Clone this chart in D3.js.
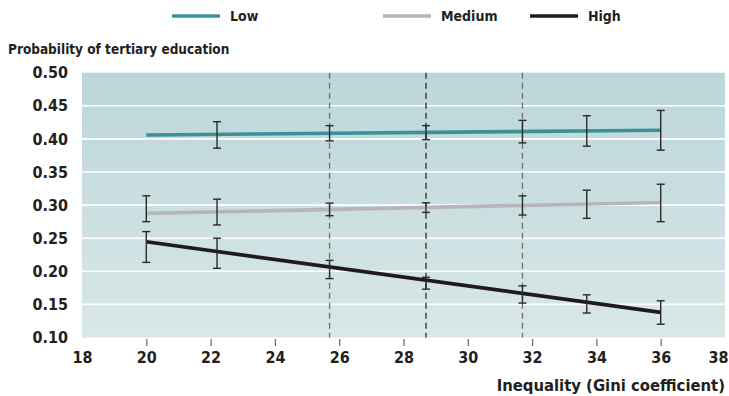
<!DOCTYPE html>
<html><head><meta charset="utf-8">
<script src="https://cdn.jsdelivr.net/npm/d3@7"></script>
<style>
body{margin:0;background:#fff;}
svg text{font-family:"DejaVu Sans Condensed","Roboto",sans-serif;fill:#231f20;}
</style></head>
<body><svg id="c" width="729" height="396"></svg>
<script>
const seriesNames = ["Low","Medium","High"];
const seriesColors = ["#3a9297","#b6b6b8","#1f1b1c"];
const lineX = [20, 36];
const lowLine = [0.406, 0.413];
const mediumLine = [0.2875, 0.304];
const highLine = [0.2445, 0.138];
const barX = [20, 22.2, 25.7, 28.7, 31.7, 33.7, 36];
const lowUpper = [null, 0.426, 0.420, 0.420, 0.428, 0.435, 0.443];
const lowLower = [null, 0.386, 0.397, 0.399, 0.394, 0.389, 0.383];
const mediumUpper = [0.314, 0.309, 0.303, 0.3035, 0.314, 0.3225, 0.3315];
const mediumLower = [0.275, 0.270, 0.284, 0.289, 0.285, 0.280, 0.275];
const highUpper = [0.260, 0.250, 0.2165, 0.191, 0.178, 0.1645, 0.1555];
const highLower = [0.2135, 0.2045, 0.189, 0.173, 0.152, 0.137, 0.120];
const refLines = [25.7, 28.7, 31.7];
const refColors = ["#6f6f6f","#2b2b2b","#6f6f6f"];
const xTicks = [18,20,22,24,26,28,30,32,34,36,38];
const yTicks = [0.10,0.15,0.20,0.25,0.30,0.35,0.40,0.45,0.50];
const yTitle = "Probability of tertiary education";
const xTitle = "Inequality (Gini coefficient)";

const svg = d3.select("#c");
const x = d3.scaleLinear().domain([18,38]).range([82,725]);
const y = d3.scaleLinear().domain([0.10,0.50]).range([337.5,72.7]);

const defs = svg.append("defs");
const grad = defs.append("linearGradient").attr("id","bg").attr("x1",0).attr("y1",0).attr("x2",0).attr("y2",1);
grad.append("stop").attr("offset","0%").attr("stop-color","#bbd6d9");
grad.append("stop").attr("offset","100%").attr("stop-color","#d9e7e8");

svg.append("rect").attr("x",x(18)).attr("y",y(0.5)).attr("width",x(38)-x(18)).attr("height",y(0.1)-y(0.5)).attr("fill","url(#bg)");

// gridlines
svg.append("g").selectAll("line").data(yTicks.filter(d=>d>0.1&&d<0.5)).join("line")
  .attr("x1",x(18)).attr("x2",x(38)).attr("y1",d=>y(d)).attr("y2",d=>y(d))
  .attr("stroke","#ffffff").attr("stroke-width",1.6);

// y axis labels
const yAxis = d3.axisLeft(y).tickValues(yTicks).tickFormat(d3.format(".2f")).tickSize(0).tickPadding(0);
const yg = svg.append("g").attr("transform","translate(68,0)").call(yAxis);
yg.select(".domain").remove();
yg.selectAll("text").attr("font-size",16).attr("font-weight","bold").attr("fill","#231f20");

// x axis
const xAxis = d3.axisBottom(x).tickValues(xTicks).tickFormat(d3.format("d")).tickSize(7).tickPadding(6);
const xg = svg.append("g").attr("transform","translate(0,339)").call(xAxis);
xg.select(".domain").remove();
xg.selectAll(".tick line").attr("stroke","#666").attr("stroke-width",1.2)
  .filter(d=>d===18||d===38).attr("stroke-opacity",0);
xg.selectAll("text").attr("font-size",16).attr("font-weight","bold").attr("fill","#231f20");
xg.selectAll(".tick text").filter(d=>d===38).attr("text-anchor","end").attr("dx",3);

// reference lines
svg.append("g").selectAll("line").data(refLines).join("line")
  .attr("x1",d=>x(d)).attr("x2",d=>x(d)).attr("y1",y(0.5)).attr("y2",y(0.1))
  .attr("stroke",(d,i)=>refColors[i]).attr("stroke-width",1.3).attr("stroke-dasharray","6,4");

// lines
const lines = [lowLine, mediumLine, highLine];
const lineGen = d3.line().x((d,i)=>x(lineX[i])).y(d=>y(d));
svg.append("g").selectAll("path").data(lines).join("path")
  .attr("d",d=>lineGen(d)).attr("fill","none")
  .attr("stroke",(d,i)=>seriesColors[i]).attr("stroke-width",3.6);

// error bars
const bars = [[lowUpper,lowLower],[mediumUpper,mediumLower],[highUpper,highLower]];
const eg = svg.append("g").attr("stroke","#2a2a2a").attr("stroke-width",1.4);
bars.forEach(([up,lo])=>{
  barX.forEach((bx,i)=>{
    if(up[i]==null) return;
    const cx = x(bx);
    eg.append("line").attr("x1",cx).attr("x2",cx).attr("y1",y(up[i])).attr("y2",y(lo[i]));
    eg.append("line").attr("x1",cx-4).attr("x2",cx+4).attr("y1",y(up[i])).attr("y2",y(up[i]));
    eg.append("line").attr("x1",cx-4).attr("x2",cx+4).attr("y1",y(lo[i])).attr("y2",y(lo[i]));
  });
});

// titles
svg.append("text").attr("x",8).attr("y",54).attr("font-size",13.5).attr("font-weight","bold").text(yTitle);
svg.append("text").attr("x",725).attr("y",391).attr("text-anchor","end").attr("font-size",16.5).attr("font-weight","bold").text(xTitle);

// legend
const legX = [172, 383, 530];
const lg = svg.append("g");
seriesNames.forEach((n,i)=>{
  lg.append("line").attr("x1",legX[i]).attr("x2",legX[i]+48).attr("y1",16).attr("y2",16)
    .attr("stroke",seriesColors[i]).attr("stroke-width",3.5);
  lg.append("text").attr("x",legX[i]+58).attr("y",21).attr("font-size",14).attr("font-weight","bold").text(n);
});
</script></body></html>
